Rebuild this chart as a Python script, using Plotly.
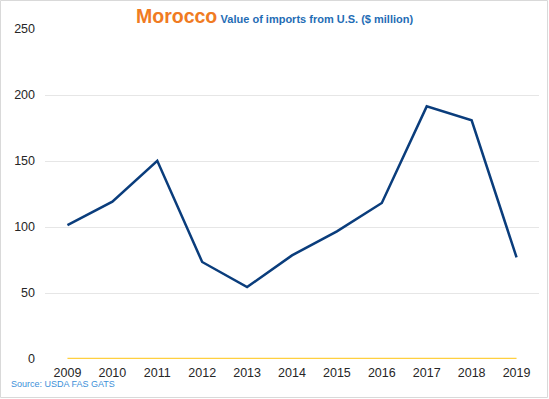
import plotly.graph_objects as go

years = ["2009", "2010", "2011", "2012", "2013", "2014", "2015", "2016", "2017", "2018", "2019"]
imports_us = [101.5, 119.2, 150.2, 73.5, 54.5, 78.5, 96.7, 118.2, 191.4, 180.8, 77.0]
zero_series = [0, 0, 0, 0, 0, 0, 0, 0, 0, 0, 0]
y_ticks = [0, 50, 100, 150, 200, 250]

W, H = 549, 399
ML, MR, MT, MB = 45, 10, 29, 40
PW, PH = W - ML - MR, H - MT - MB

fig = go.Figure()
fig.add_trace(go.Scatter(x=years, y=zero_series, mode="lines",
                         line=dict(color="#FFD040", width=2.5), hoverinfo="skip"))
fig.add_trace(go.Scatter(x=years, y=imports_us, mode="lines",
                         line=dict(color="#0A3D7C", width=2.5)))

def px_x(p):
    return (p - ML) / PW

def px_y(p):
    return (H - MB - p) / PH

fig.add_shape(type="rect", xref="paper", yref="paper",
              x0=px_x(0.5), x1=px_x(W - 1.5), y0=px_y(H - 1.5), y1=px_y(0.5),
              line=dict(color="#D9D9D9", width=1), fillcolor="rgba(0,0,0,0)", layer="below")

fig.add_annotation(xref="paper", yref="paper", x=px_x(274), y=px_y(16),
                   xanchor="center", yanchor="middle", showarrow=False,
                   text="<b><span style='font-size:19.5px;color:#F07B22'>Morocco</span> "
                        "<span style='font-size:11px;color:#1F6DB5'>Value of imports from U.S. ($ million)</span></b>",
                   font=dict(family="Liberation Sans, Arial, sans-serif"))
fig.add_annotation(xref="paper", yref="paper", x=px_x(9), y=px_y(384),
                   xanchor="left", yanchor="middle", showarrow=False,
                   text="Source: USDA FAS GATS",
                   font=dict(family="Liberation Sans, Arial, sans-serif", size=9, color="#3B8FD9"))

fig.update_layout(
    width=W, height=H,
    margin=dict(l=ML, r=MR, t=MT, b=MB, pad=0),
    paper_bgcolor="white", plot_bgcolor="white",
    showlegend=False,
    font=dict(family="Liberation Sans, Arial, sans-serif", size=12, color="#262626"),
    xaxis=dict(type="category", range=[-0.5, 10.5], showgrid=False, zeroline=False,
               showline=False, ticks="", ticklabelstandoff=4,
               tickfont=dict(size=12.5, color="#262626")),
    yaxis=dict(range=[0, 250], tickvals=y_ticks, showgrid=True, gridcolor="#E6E6E6",
               gridwidth=1, zeroline=False, showline=False, ticks="",
               ticklabelstandoff=9, tickfont=dict(size=12.5, color="#262626")),
)

fig.write_html("out.html", config={"displayModeBar": False},
               post_script="document.body.style.margin='0';document.body.style.overflow='hidden';")
